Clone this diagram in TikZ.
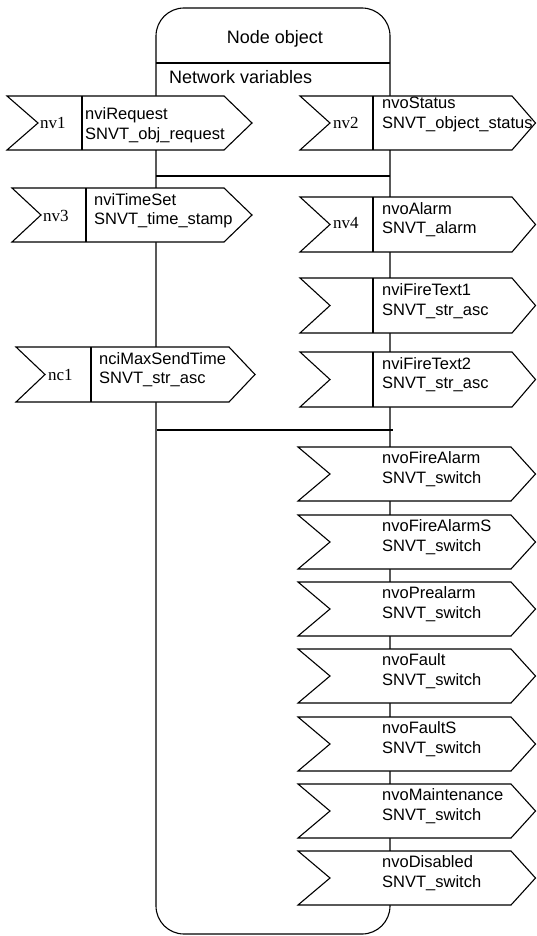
\documentclass[tikz,border=0pt]{standalone}
\usepackage{fontspec}
\setmainfont{Liberation Serif}
\newfontfamily\arialf{Liberation Sans}
\tikzset{
  boxline/.style={draw=black, line width=1.1pt, fill=white, line join=miter},
  plainline/.style={draw=black, line width=1.1pt},
  txt/.style={font=\arialf\fontsize{16.5}{19.5}\selectfont, inner sep=0pt, align=left, anchor=west},
  title/.style={font=\arialf\fontsize{18}{22}\selectfont, inner sep=0pt},
  lbl/.style={font=\fontsize{17}{20}\selectfont, inner sep=0pt, anchor=west}
}
% #1 name, #2 left x, #3 notch x, #4 body right x, #5 tip x, #6 top y, #7 bottom y
\newcommand{\flagshape}[7]{%
  \draw[boxline] (#2,#6) coordinate (#1-nw) -- (#4,#6) -- (#5,{(#6+#7)/2}) coordinate (#1-e)
    -- (#4,#7) -- (#2,#7) -- (#3,{(#6+#7)/2}) coordinate (#1-w) -- cycle;}
\begin{document}
\begin{tikzpicture}[x=1pt,y=-1pt]
\useasboundingbox (0,0) rectangle (537,936);
% container
\draw[plainline, rounded corners=28pt] (156,8) rectangle (390,934);
\coordinate (cl) at (156,63); \coordinate (cr) at (390,63);
\draw[plainline] (cl) -- (cr);
\node[title] (ttl) at (275,39) {Node object};
\node[title, anchor=west] (nvh) at (169,77) {Network variables};
% separators
\coordinate (s1l) at (156,176); \coordinate (s1r) at (390,176);
\draw[plainline] (s1l) -- (s1r);
\coordinate (s2l) at (157,430); \coordinate (s2r) at (393,430);
\draw[plainline] (s2l) -- (s2r);
% left boxes
\flagshape{nv1}{7}{38}{224}{252}{96}{150}
\draw[plainline] (82,96) -- (82,150);
\node[lbl] (l1) at (40,123) {nv1};
\node[txt] (t1) at (85,125) {nviRequest\\SNVT\_obj\_request};

\flagshape{nv3}{12}{41}{224}{252}{188}{242}
\draw[plainline] (86,188) -- (86,242);
\node[lbl] (l3) at (43,216) {nv3};
\node[txt] (t3) at (94,210.5) {nviTimeSet\\SNVT\_time\_stamp};

\flagshape{nc1}{16}{45}{229}{255}{347}{402}
\draw[plainline] (91,347) -- (91,402);
\node[lbl] (lc1) at (48,375) {nc1};
\node[txt] (tc1) at (99,369.5) {nciMaxSendTime\\SNVT\_str\_asc};

% right boxes
\flagshape{nv2}{300}{330}{512}{535.5}{96}{150}
\draw[plainline] (373,96) -- (373,150);
\node[lbl] (l2) at (333,123) {nv2};
\node[txt] (t2) at (382,114.5) {nvoStatus\\SNVT\_object\_status};

\flagshape{nv4}{300}{330}{512}{535.5}{197}{252}
\draw[plainline] (373,197) -- (373,252);
\node[lbl] (l4) at (333,223) {nv4};
\node[txt] (t4) at (382,219.5) {nvoAlarm\\SNVT\_alarm};

\flagshape{ft1}{300}{330}{512}{535.5}{278}{333}
\draw[plainline] (373,278) -- (373,333);
\node[txt] (tf1) at (382,301) {nviFireText1\\SNVT\_str\_asc};

\flagshape{ft2}{300}{330}{512}{535.5}{352}{407}
\draw[plainline] (373,352) -- (373,407);
\node[txt] (tf2) at (382,374.5) {nviFireText2\\SNVT\_str\_asc};

% switch outputs
\foreach \nm/\tp/\tx in {sw1/447/nvoFireAlarm, sw2/515/nvoFireAlarmS, sw3/582/nvoPrealarm,
    sw4/649/nvoFault, sw5/717/nvoFaultS, sw6/784/nvoMaintenance, sw7/851/nvoDisabled}{
  \flagshape{\nm}{298}{330}{511}{535.5}{\tp}{\tp+54}
  \node[txt] (\nm-t) at (382,\tp+22) {\tx\\SNVT\_switch};
}
\end{tikzpicture}
\end{document}
